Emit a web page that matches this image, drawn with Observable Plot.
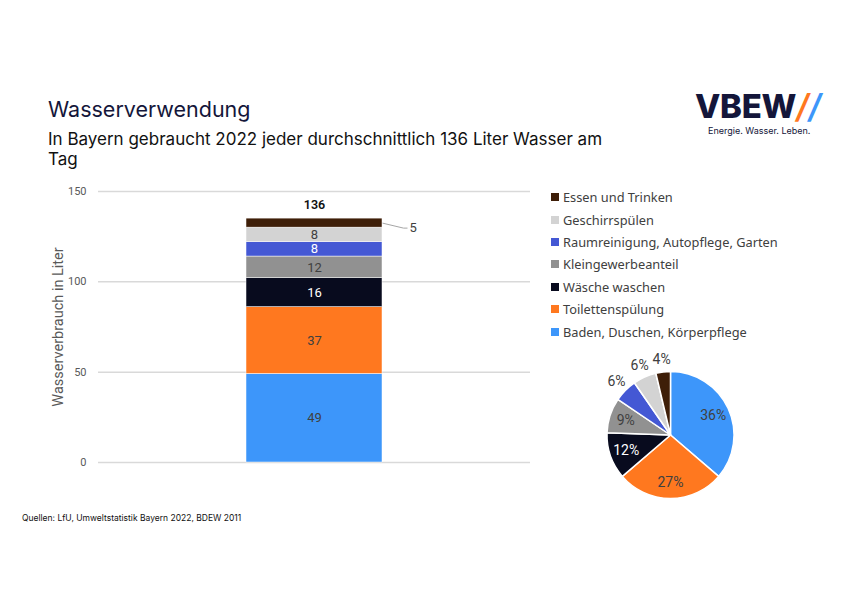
<!DOCTYPE html>
<html>
<head>
<meta charset="utf-8">
<script src="https://cdn.jsdelivr.net/npm/d3@7"></script>
<script src="https://cdn.jsdelivr.net/npm/@observablehq/plot@0.6"></script>
<style>
  html, body { margin: 0; padding: 0; background: #fff; }
  #page { position: relative; width: 842px; height: 595px; overflow: hidden; font-family: "Noto Sans", sans-serif; }
  #title { position: absolute; left: 48px; top: 96px; font-family: Inter, sans-serif; font-size: 21.5px; color: #14163a; white-space: nowrap; }
  #subtitle { position: absolute; left: 48px; top: 129px; font-family: Inter, sans-serif; font-size: 17px; line-height: 20px; color: #111; white-space: nowrap; }
  #logo { position: absolute; left: 695px; top: 88px; font-family: Inter, sans-serif; font-weight: 800; font-size: 33px; color: #14163a; letter-spacing: -0.3px; line-height: 36px; white-space: nowrap; }
  #logo .s1 { color: #ff781f; font-style: italic; font-weight: 600; }
  #logo .s2 { color: #3d96fa; font-style: italic; font-weight: 600; }
  #tag { position: absolute; left: 708px; top: 125px; font-family: Inter, sans-serif; font-size: 9px; color: #14163a; white-space: nowrap; }
  #bar { position: absolute; left: 0; top: 180px; }
  #pie { position: absolute; left: 570px; top: 350px; }
  #legend { position: absolute; left: 551px; top: 186px; font-size: 12.8px; color: #404040; }
  #legend .row { height: 22.4px; display: flex; align-items: center; white-space: nowrap; }
  #legend .sw { width: 8px; height: 8px; margin-right: 4px; flex: none; }
  #source { position: absolute; left: 22px; top: 513px; font-family: Inter, sans-serif; font-size: 8.5px; color: #111; white-space: nowrap; }
</style>
</head>
<body>
<div id="page">
  <div id="title">Wasserverwendung</div>
  <div id="subtitle">In Bayern gebraucht 2022 jeder durchschnittlich 136 Liter Wasser am<br>Tag</div>
  <div id="logo">VBEW<span class="s1">/</span><span class="s2">/</span></div>
  <div id="tag">Energie. Wasser. Leben.</div>
  <div id="bar"></div>
  <div id="legend"></div>
  <div id="pie"></div>
  <div id="source">Quellen: LfU, Umweltstatistik Bayern 2022, BDEW 2011</div>
</div>
<script>
// ---- data ----
const categories = ["Baden, Duschen, Körperpflege", "Toilettenspülung", "Wäsche waschen", "Kleingewerbeanteil", "Raumreinigung, Autopflege, Garten", "Geschirrspülen", "Essen und Trinken"];
const liters = [49, 37, 16, 12, 8, 8, 5];
const colors = ["#3d96fa", "#ff781f", "#080b1e", "#919191", "#4458d4", "#d3d3d3", "#3e1e08"];
const labelColors = ["#404040", "#404040", "#ffffff", "#404040", "#ffffff", "#404040", "#404040"];
const insideLabel = [true, true, true, true, true, true, false];
const totalLabel = "136";
const pieShares = ["36%", "27%", "12%", "9%", "6%", "6%", "4%"];
const pieLabelColors = ["#404040", "#404040", "#ffffff", "#404040", "#404040", "#404040", "#404040"];
const pieOutside = [false, false, false, false, true, true, true];
const yTicks = [0, 50, 100, 150];
const yLabel = "Wasserverbrauch in Liter";

const rows = categories.map((c, i) => ({
  cat: c, value: liters[i], color: colors[i], labelColor: labelColors[i],
  inside: insideLabel[i], share: pieShares[i], pieColor: pieLabelColors[i], outside: pieOutside[i]
}));

// ---- layout constants (pixels) ----
const W = 540, H = 300, ML = 98, MR = 10, MT = 11, MB = 18;
const plotW = W - ML - MR;
const barX1 = 148 / plotW, barX2 = 284 / plotW;     // bar band in x-domain units
const barMid = (barX1 + barX2) / 2;
const pxY = (H - MT - MB) / 150;
const stackTop = d3.sum(liters);
const lastMid = stackTop - liters[liters.length - 1] / 2;
const leaderEndX = barX2 + 21 / plotW;
const leaderEndY = lastMid - 5 / pxY;
const outsideRows = rows.filter(d => !d.inside);

const bar = Plot.plot({
  width: W, height: H,
  marginLeft: ML, marginRight: MR, marginTop: MT, marginBottom: MB,
  style: { fontFamily: "Roboto, sans-serif", color: "#595959", background: "transparent", overflow: "visible" },
  x: { domain: [0, 1], axis: null },
  y: { domain: [0, 150], axis: null },
  color: { type: "identity" },
  marks: [
    Plot.ruleY(yTicks, { stroke: "#d9d9d9", strokeWidth: 1.5 }),
    Plot.axisY({ ticks: yTicks, tickSize: 0, tickPadding: 12, label: null, fontSize: 11, fill: "#595959" }),
    Plot.text([yLabel], { frameAnchor: "left", textAnchor: "middle", rotate: -90, dx: -40, fontSize: 14.5, fill: "#595959" }),
    Plot.rectY(rows, { x1: () => barX1, x2: () => barX2, y: "value", fill: "color", stroke: "#ffffff", strokeWidth: 0.5, order: null }),
    Plot.text(rows, Plot.stackY({ x: () => barMid, y: "value", text: d => d.inside ? String(d.value) : null, fill: "labelColor", fontSize: 13, order: null })),
    Plot.text([totalLabel], { x: () => barMid, y: () => stackTop, text: d => d, dy: -14, fontSize: 12.5, fontWeight: 600, fill: "#111" }),
    Plot.link(outsideRows, { x1: () => barX2, y1: () => lastMid, x2: () => leaderEndX, y2: () => leaderEndY, stroke: "#a6a6a6", strokeWidth: 1 }),
    Plot.link(outsideRows, { x1: () => leaderEndX, y1: () => leaderEndY, x2: () => leaderEndX + 4 / plotW, y2: () => leaderEndY, stroke: "#a6a6a6", strokeWidth: 1 }),
    Plot.text(outsideRows, { x: () => leaderEndX + 6 / plotW, y: () => leaderEndY, text: d => String(d.value), textAnchor: "start", fontSize: 13, fill: "#404040" })
  ]
});
document.getElementById("bar").appendChild(bar);

// ---- legend ----
const legend = d3.select("#legend");
rows.slice().reverse().forEach(d => {
  const r = legend.append("div").attr("class", "row");
  r.append("div").attr("class", "sw").style("background", d.color);
  r.append("span").text(d.cat);
});

// ---- pie ----
const PW = 200, PH = 170, R = 63.5, CX = 100.5, CY = 85;
function pieMark(index, scales, values, dimensions) {
  const g = d3.create("svg:g").attr("transform", `translate(${CX},${CY})`);
  const arcs = d3.pie().sort(null).value(d => d.value)(rows);
  const arc = d3.arc().innerRadius(0).outerRadius(R);
  g.selectAll("path").data(arcs).join("path")
    .attr("d", arc).attr("fill", d => d.data.color)
    .attr("stroke", "#fff").attr("stroke-width", 1.5).attr("stroke-linejoin", "round");
  const inArc = d3.arc().innerRadius(47).outerRadius(47);
  const outArc = d3.arc().innerRadius(76).outerRadius(76);
  g.selectAll("text").data(arcs).join("text")
    .attr("transform", d => `translate(${(d.data.outside ? outArc : inArc).centroid(d)})`)
    .attr("text-anchor", "middle").attr("dy", "0.35em")
    .attr("font-family", "Roboto, sans-serif").attr("font-size", 14)
    .attr("fill", d => d.data.pieColor)
    .text(d => d.data.share);
  return g.node();
}
const pie = Plot.plot({
  width: PW, height: PH, margin: 0,
  style: { background: "transparent" },
  marks: [pieMark]
});
document.getElementById("pie").appendChild(pie);
</script>
</body>
</html>
